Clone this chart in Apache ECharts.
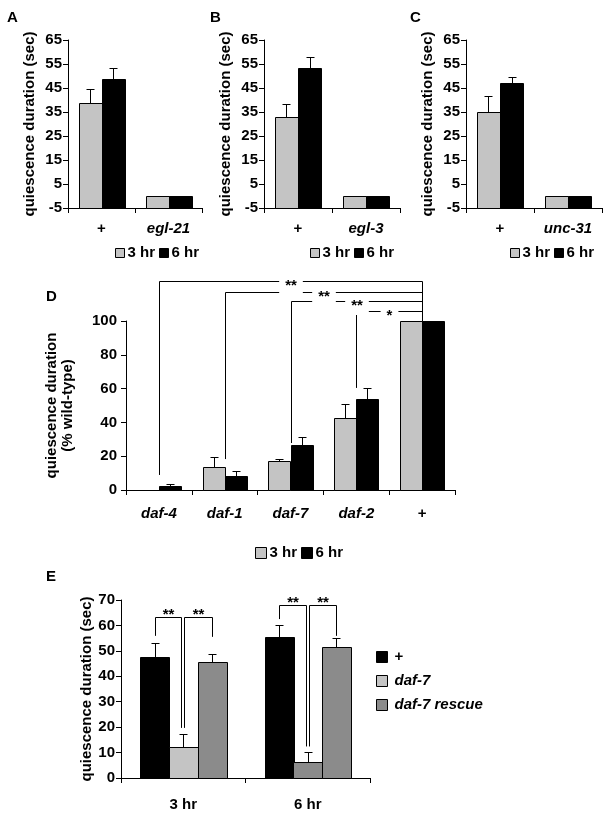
<!DOCTYPE html>
<html><head><meta charset="utf-8">
<script src="https://cdn.jsdelivr.net/npm/echarts@6/dist/echarts.min.js"></script>
<style>html,body{margin:0;padding:0;background:#fff}#c{width:610px;height:815px}</style>
</head><body><div id="c"></div>
<script>
// ---------- data ----------
const catA = ['+', 'egl-21'];
const catB = ['+', 'egl-3'];
const catC = ['+', 'unc-31'];
const ticksABC = [-5, 5, 15, 25, 35, 45, 55, 65];
const a3 = [38.8, 0], a3Err = [5.8, 0], a6 = [48.6, 0], a6Err = [4.6, 0];
const b3 = [33.0, 0], b3Err = [5.3, 0], b6 = [53.5, 0], b6Err = [4.5, 0];
const c3 = [35.0, 0], c3Err = [6.8, 0], c6 = [47.2, 0], c6Err = [2.5, 0];

const catD = ['daf-4', 'daf-1', 'daf-7', 'daf-2', '+'];
const d3 = [0, 13.8, 17.0, 42.7, 100], d3Err = [0, 5.7, 1.1, 8.1, 0];
const d6 = [2.4, 8.3, 26.4, 53.9, 100], d6Err = [1.0, 3.1, 4.9, 6.5, 0];
const dBrFrom = [0, 1, 2, 3];
const dBrTo = 4;
const dBrLevel = [123.4, 117.1, 111.6, 105.9];
const dBrLow = [8.9, 18.3, 27.8, 60.4];
const dBrEnd = 100;
const dBrLabel = ['**', '**', '**', '*'];

const catE = ['3 hr', '6 hr'];
const eWT = [47.7, 55.6], eWTErr = [5.2, 4.7];
const eDaf7 = [12.3, 6.3], eDaf7Err = [5.0, 3.9];
const eResc = [45.8, 51.6], eRescErr = [2.8, 3.5];
const eBrLevel = [63.2, 68.1];
const eBrLowWT = [55.9, 62.5];
const eBrLowDaf7 = [19.7, 12.4];
const eBrLowResc = [55.5, 55.9];
const eBrLabel = ['**', '**'];

// ---------- style ----------
const LIGHT = '#c4c4c4', DARK = '#8b8b8b', BLACK = '#000000';
const FONT = "'Liberation Sans', Arial, sans-serif";
const fracABC = 0.68, fracD = 0.67, fracE = 0.69;
const FS = 15;

function px(v) { return Math.round(v) + 0.5; }

function bars(gi, name, vals, errs, k, n, frac, base, colors) {
  return {
    type: 'custom', name: name, xAxisIndex: gi, yAxisIndex: gi, clip: false, silent: true,
    itemStyle: { color: colors[0], borderColor: '#000', borderWidth: 1 },
    data: vals.map((v, i) => [i, v, errs[i]]),
    encode: { x: 0, y: 1 },
    renderItem: function (params, api) {
      const i = api.value(0), v = api.value(1), e = api.value(2);
      const band = api.size([1, 0])[0];
      const gw = band * frac, bw = gw / n;
      const p = api.coord([i, v]);
      const x0 = p[0] - gw / 2 + k * bw;
      const yb = api.coord([i, base])[1];
      const ch = [];
      if (yb - p[1] > 0.5) {
        ch.push({ type: 'rect', shape: { x: px(x0), y: px(p[1]), width: Math.round(bw), height: Math.round(yb - p[1]) },
          style: { fill: colors[i % colors.length], stroke: '#000', lineWidth: 1 } });
      }
      if (e > 0) {
        const ye = api.coord([i, v + e])[1];
        const mx = px(x0 + bw / 2);
        ch.push({ type: 'line', shape: { x1: mx, y1: px(p[1]), x2: mx, y2: px(ye) }, style: { stroke: '#000', lineWidth: 1 } });
        ch.push({ type: 'line', shape: { x1: mx - 4, y1: px(ye), x2: mx + 4, y2: px(ye) }, style: { stroke: '#000', lineWidth: 1 } });
      }
      return { type: 'group', children: ch };
    }
  };
}

function xCat(gi, cats, margin) {
  return {
    type: 'category', gridIndex: gi,
    data: cats.map(c => (c === '+' || c.indexOf('hr') >= 0) ? { value: c } : { value: c, textStyle: { fontStyle: 'italic' } }),
    axisLine: { onZero: false, lineStyle: { color: '#000', width: 1 } },
    axisTick: { show: true, length: 5, lineStyle: { color: '#000' } },
    axisLabel: { color: '#000', fontWeight: 'bold', fontSize: FS, fontFamily: FONT, margin: margin, interval: 0 },
    splitLine: { show: false }
  };
}

function yVal(gi, extra) {
  return Object.assign({
    type: 'value', gridIndex: gi,
    axisLine: { show: true, lineStyle: { color: '#000', width: 1 } },
    splitLine: { show: false },
    nameLocation: 'middle', nameRotate: 90,
    nameTextStyle: { color: '#000', fontWeight: 'bold', fontSize: 15, fontFamily: FONT, lineHeight: 16 }
  }, extra);
}

function yABC(gi) {
  return yVal(gi, {
    min: -5, max: 65, name: 'quiescence duration (sec)', nameGap: 30,
    axisTick: { show: true, length: 5, lineStyle: { color: '#000' }, customValues: ticksABC },
    axisLabel: { color: '#000', fontWeight: 'bold', fontSize: FS, fontFamily: FONT, margin: 6, customValues: ticksABC }
  });
}

const legendCommon = {
  icon: 'rect', itemWidth: 9, itemHeight: 9, itemGap: 4, padding: 0, selectedMode: false,
  itemStyle: { borderColor: '#000', borderWidth: 1 },
  textStyle: { color: '#000', fontWeight: 'bold', fontSize: FS, fontFamily: FONT, lineHeight: 16, padding: [0, 0, 0, -2] }
};

const series = [
  bars(0, '3 hr', a3, a3Err, 0, 2, fracABC, -5, [LIGHT]),
  bars(0, '6 hr', a6, a6Err, 1, 2, fracABC, -5, [BLACK]),
  bars(1, '3 hr', b3, b3Err, 0, 2, fracABC, -5, [LIGHT]),
  bars(1, '6 hr', b6, b6Err, 1, 2, fracABC, -5, [BLACK]),
  bars(2, '3 hr', c3, c3Err, 0, 2, fracABC, -5, [LIGHT]),
  bars(2, '6 hr', c6, c6Err, 1, 2, fracABC, -5, [BLACK]),
  bars(3, '3 hr', d3, d3Err, 0, 2, fracD, 0, [LIGHT]),
  bars(3, '6 hr', d6, d6Err, 1, 2, fracD, 0, [BLACK]),
  bars(4, '+', eWT, eWTErr, 0, 3, fracE, 0, [BLACK]),
  bars(4, 'daf-7', eDaf7, eDaf7Err, 1, 3, fracE, 0, [LIGHT, DARK]),
  bars(4, 'daf-7 rescue', eResc, eRescErr, 2, 3, fracE, 0, [DARK]),
  {
    type: 'custom', xAxisIndex: 3, yAxisIndex: 3, clip: false, silent: true, z: 5,
    data: dBrFrom.map((f, j) => [f, dBrLevel[j], dBrLow[j], j]),
    encode: { x: 0, y: 1 },
    renderItem: function (params, api) {
      const f = api.value(0), lv = api.value(1), low = api.value(2), j = api.value(3);
      const pTop = api.coord([f, lv]), pLow = api.coord([f, low]);
      const pEndTop = api.coord([dBrTo, lv]), pEnd = api.coord([dBrTo, dBrEnd]);
      const xl = px(pTop[0]), xr = px(pEndTop[0]), yt = px(pTop[1]);
      return { type: 'group', children: [
        { type: 'polyline', shape: { points: [[xl, pLow[1]], [xl, yt], [xr, yt], [xr, pEnd[1]]] },
          style: { stroke: '#000', lineWidth: 1, fill: null } },
        { type: 'text', z2: 10, style: { text: dBrLabel[j], x: (xl + xr) / 2, y: yt + 4,
          textAlign: 'center', align: 'center', textVerticalAlign: 'middle', verticalAlign: 'middle',
          font: 'bold 15px ' + FONT, fill: '#000', backgroundColor: '#fff', padding: [2, 6] } }
      ] };
    }
  },
  {
    type: 'custom', xAxisIndex: 4, yAxisIndex: 4, clip: false, silent: true, z: 5,
    data: eBrLevel.map((lv, j) => [j, lv, eBrLowWT[j], eBrLowDaf7[j], eBrLowResc[j]]),
    encode: { x: 0, y: 1 },
    renderItem: function (params, api) {
      const j = api.value(0), lv = api.value(1);
      const band = api.size([1, 0])[0], gw = band * fracE, bw = gw / 3;
      const c = api.coord([j, lv]);
      const xs = [0, 1, 2].map(k => Math.round(c[0] - gw / 2 + (k + 0.5) * bw));
      const y = px(c[1]);
      const yW = api.coord([j, api.value(2)])[1];
      const yD = api.coord([j, api.value(3)])[1];
      const yR = api.coord([j, api.value(4)])[1];
      const st = { stroke: '#000', lineWidth: 1, fill: null };
      const x0 = xs[0] + 0.5, x1a = xs[1] - 1.5, x1b = xs[1] + 1.5, x2 = xs[2] + 0.5;
      return { type: 'group', children: [
        { type: 'polyline', shape: { points: [[x0, yW], [x0, y], [x1a, y], [x1a, yD]] }, style: st },
        { type: 'polyline', shape: { points: [[x1b, yD], [x1b, y], [x2, y], [x2, yR]] }, style: st },
        { type: 'text', style: { text: eBrLabel[0], x: (x0 + x1a) / 2, y: y + 5, textAlign: 'center', align: 'center',
          textVerticalAlign: 'bottom', verticalAlign: 'bottom', font: 'bold 15px ' + FONT, fill: '#000' } },
        { type: 'text', style: { text: eBrLabel[1], x: (x1b + x2) / 2, y: y + 5, textAlign: 'center', align: 'center',
          textVerticalAlign: 'bottom', verticalAlign: 'bottom', font: 'bold 15px ' + FONT, fill: '#000' } }
      ] };
    }
  }
];

const option = {
  animation: false,
  backgroundColor: '#fff',
  textStyle: { fontFamily: FONT },
  title: [
    { text: 'A', left: 7, top: 10 },
    { text: 'B', left: 210, top: 10 },
    { text: 'C', left: 410, top: 10 },
    { text: 'D', left: 46, top: 289 },
    { text: 'E', left: 46, top: 569 }
  ].map(t => Object.assign(t, { padding: 0, textStyle: { color: '#000', fontWeight: 'bold', fontSize: 15, fontFamily: FONT } })),
  grid: [
    { left: 68, top: 40, width: 134, height: 168, outerBoundsMode: 'none' },
    { left: 264, top: 40, width: 136, height: 168, outerBoundsMode: 'none' },
    { left: 466, top: 40, width: 136, height: 168, outerBoundsMode: 'none' },
    { left: 126, top: 321, width: 329, height: 169, outerBoundsMode: 'none' },
    { left: 121, top: 600, width: 249, height: 178, outerBoundsMode: 'none' }
  ],
  xAxis: [
    xCat(0, catA, 13), xCat(1, catB, 13), xCat(2, catC, 13), xCat(3, catD, 16), xCat(4, catE, 19)
  ],
  yAxis: [
    yABC(0), yABC(1), yABC(2),
    yVal(3, { min: 0, max: 100, interval: 20, name: 'quiescence duration\n(% wild-type)', nameGap: 50,
      axisTick: { show: true, length: 5, lineStyle: { color: '#000' } },
      axisLabel: { color: '#000', fontWeight: 'bold', fontSize: FS, fontFamily: FONT, margin: 9 } }),
    yVal(4, { min: 0, max: 70, interval: 10, name: 'quiescence duration (sec)', nameGap: 25,
      axisTick: { show: true, length: 5, lineStyle: { color: '#000' } },
      axisLabel: { color: '#000', fontWeight: 'bold', fontSize: FS, fontFamily: FONT, margin: 6 } })
  ],
  legend: [
    Object.assign({}, legendCommon, { left: 115, top: 245, data: ['3 hr', '6 hr'] }),
    Object.assign({}, legendCommon, { left: 310, top: 245, data: ['3 hr', '6 hr'] }),
    Object.assign({}, legendCommon, { left: 510, top: 245, data: ['3 hr', '6 hr'] }),
    Object.assign({}, legendCommon, { left: 255, top: 545, itemWidth: 11, itemHeight: 11, data: ['3 hr', '6 hr'] }),
    Object.assign({}, legendCommon, { left: 376, top: 649, orient: 'vertical', itemWidth: 11, itemHeight: 11, itemGap: 8,
      textStyle: Object.assign({}, legendCommon.textStyle, { padding: [0, 0, 0, 2] }),
      data: [{ name: '+' }, { name: 'daf-7', textStyle: { fontStyle: 'italic' } }, { name: 'daf-7 rescue', textStyle: { fontStyle: 'italic' } }] })
  ],
  series: series
};

const chart = echarts.init(document.getElementById('c'), null, { renderer: 'canvas' });
chart.setOption(option);
</script>
</body></html>
